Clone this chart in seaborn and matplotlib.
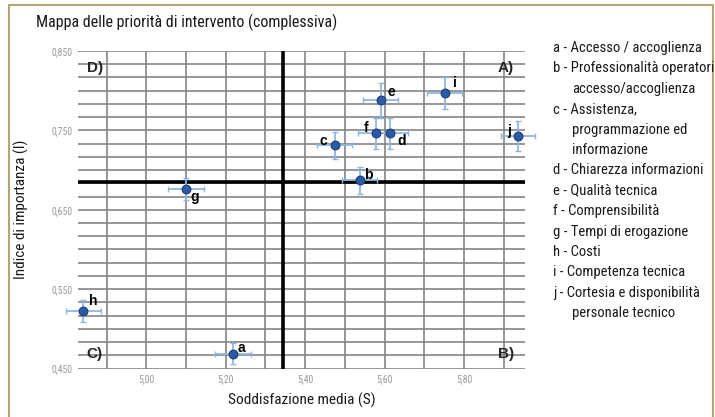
import numpy as np
import pandas as pd
import seaborn as sns
import matplotlib.pyplot as plt
from matplotlib.ticker import FixedLocator, FuncFormatter
from matplotlib.lines import Line2D

# dati
labels = ["a", "b", "c", "d", "e", "f", "g", "h", "i", "j"]
soddisfazione = [5.218, 5.537, 5.475, 5.614, 5.590, 5.578, 5.100, 4.842, 5.751, 5.935]
importanza = [0.469, 0.687, 0.731, 0.746, 0.788, 0.746, 0.676, 0.523, 0.797, 0.743]
err_s = [0.046, 0.045, 0.044, 0.045, 0.045, 0.045, 0.045, 0.045, 0.044, 0.043]
err_i = [0.013, 0.017, 0.017, 0.019, 0.022, 0.019, 0.014, 0.014, 0.020, 0.019]
media_s = 5.343
media_i = 0.685

# (testo, rientro)
voci = [
    ("a - Accesso / accoglienza", False),
    ("b - Professionalità operatori", False),
    ("accesso/accoglienza", True),
    ("c - Assistenza,", False),
    ("programmazione ed", True),
    ("informazione", True),
    ("d - Chiarezza informazioni", False),
    ("e - Qualità tecnica", False),
    ("f - Comprensibilità", False),
    ("g - Tempi di erogazione", False),
    ("h - Costi", False),
    ("i - Competenza tecnica", False),
    ("j - Cortesia e disponibilità", False),
    ("personale tecnico", True),
]

# spostamento etichette (pixel)
offset = {"a": (9, 6), "b": (9, 5), "c": (-12, 4), "d": (12, -8), "e": (11, 8),
          "f": (-10, 5), "g": (9, -8), "h": (10, 10), "i": (10, 10), "j": (-9, 5)}

sns.set_theme(style="white")
plt.rcParams["font.family"] = ["Roboto Condensed", "DejaVu Sans"]

df = pd.DataFrame({"S": soddisfazione, "I": importanza, "lab": labels})

fig = plt.figure(figsize=(7.15, 4.17), dpi=100)
ax = fig.add_axes([0.109, 0.116, 0.625, 0.762])

ax.set_xlim(4.828, 5.953)
ax.set_ylim(0.450, 0.850)

# griglia
for xv in np.arange(4.9, 5.95, 0.1):
    ax.axvline(xv, color="#858585", lw=1.2, zorder=1)
for k in range(25):
    ax.axhline(0.450 + k * 0.1 / 6, color="#858585", lw=1.2, zorder=1)

ax.axvline(media_s, color="black", lw=2.6, zorder=2)
ax.axhline(media_i, color="black", lw=2.6, zorder=2)

ax.errorbar(df["S"], df["I"], xerr=err_s, yerr=err_i, fmt="none",
            ecolor="#8fb6e2", elinewidth=1.3, capsize=2.5, capthick=1.0,
            zorder=3, clip_on=False)
sns.scatterplot(data=df, x="S", y="I", ax=ax, s=40, color="#2b5aa6",
                edgecolor="#1d3f7a", linewidth=0.8, zorder=4, clip_on=False)

for lab, xs, yi in zip(labels, soddisfazione, importanza):
    dx, dy = offset[lab]
    ax.annotate(lab, (xs, yi), xytext=(dx, dy), textcoords="offset pixels",
                ha="center", va="center", fontsize=10, fontweight="bold",
                family="Liberation Sans", color="black", zorder=5)

for txt, xa, ya in [("D)", 0.02, 0.945), ("A)", 0.94, 0.945),
                    ("C)", 0.02, 0.045), ("B)", 0.94, 0.045)]:
    ax.text(xa, ya, txt, transform=ax.transAxes, ha="left", va="center",
            fontsize=11, fontweight="bold", family="Liberation Sans", zorder=5)

ax.xaxis.set_major_locator(FixedLocator([5.0, 5.2, 5.4, 5.6, 5.8]))
ax.yaxis.set_major_locator(FixedLocator([0.45, 0.55, 0.65, 0.75, 0.85]))
ax.xaxis.set_major_formatter(FuncFormatter(lambda v, p: f"{v:.2f}".replace(".", ",")))
ax.yaxis.set_major_formatter(FuncFormatter(lambda v, p: f"{v:.3f}".replace(".", ",")))
ax.tick_params(axis="both", length=0, labelsize=7, labelcolor="#999999", pad=4)
for s in ax.spines.values():
    s.set_visible(False)
ax.grid(False)

ax.set_xlabel("Soddisfazione media (S)", fontsize=11, color="#1a1a1a", labelpad=6)
ax.set_ylabel("Indice di importanza (I)", fontsize=11, color="#1a1a1a", labelpad=16)

fig.text(36 / 715, 1 - 22 / 417, "Mappa delle priorità di intervento (complessiva)",
         fontsize=11.5, color="#1a1a1a", va="center", ha="left")

for k, (v, rientro) in enumerate(voci):
    xpos = 572 if rientro else 553
    fig.text(xpos / 715, 1 - (48 + k * 20.4) / 417, v, fontsize=10.5,
             color="#1a1a1a", va="center", ha="left")

# cornice
col = "#b3a670"
fig.add_artist(Line2D([9 / 715, 9 / 715], [0, 1 - 5 / 417], color=col, lw=1.5, transform=fig.transFigure))
fig.add_artist(Line2D([9 / 715, 712.5 / 715], [1 - 5 / 417, 1 - 5 / 417], color=col, lw=1.5, transform=fig.transFigure))
fig.add_artist(Line2D([712.5 / 715, 712.5 / 715], [0, 1 - 5 / 417], color=col, lw=1.5, transform=fig.transFigure))

fig.savefig("out.png", dpi=100)
